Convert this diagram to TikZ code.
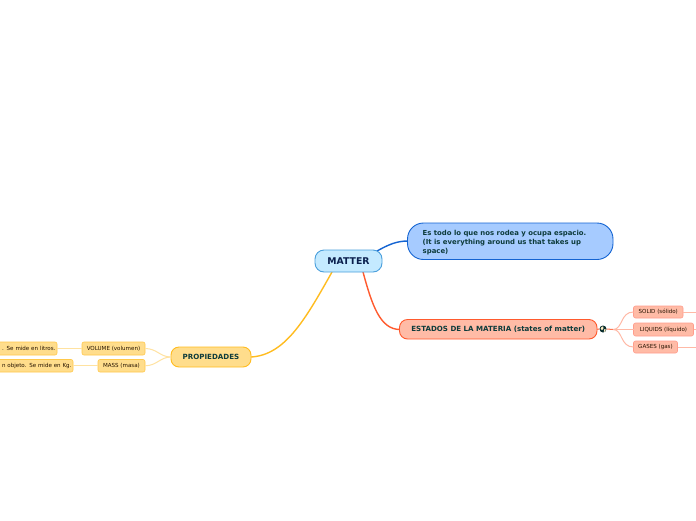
\documentclass[tikz,border=0pt]{standalone}
\usepackage{fontspec}
\setmainfont{DejaVu Sans}
\newcommand{\lowr}[1]{\raisebox{-.8pt}{#1}}
\definecolor{tealtxt}{HTML}{0D3B3B}
\definecolor{navytxt}{HTML}{0A1F4D}
\definecolor{bluefill}{HTML}{A6CBFF}
\definecolor{blueline}{HTML}{1464D2}
\definecolor{skyfill}{HTML}{C4EAFF}
\definecolor{skyline}{HTML}{4A9FDC}
\definecolor{redfill}{HTML}{FFBBA6}
\definecolor{redline}{HTML}{FF5A2E}
\definecolor{redthin}{HTML}{FFB9A6}
\definecolor{orfill}{HTML}{FFDD8C}
\definecolor{orline}{HTML}{FFBC1F}
\definecolor{orthin}{HTML}{FFE2A0}
\tikzset{
 box/.style={draw,line width=.9pt,rounded corners=#1,inner sep=0pt,outer sep=0pt,align=center},
 sbox/.style={draw,line width=.6pt,rounded corners=2pt,inner sep=0pt,outer sep=0pt,font=\fontsize{5.55}{6}\selectfont,text=black!85!orange},
 redsmall/.style={sbox,fill=redfill,draw=redthin!85!red},
 orsmall/.style={sbox,fill=orfill,draw=orline!60!orfill},
 thinred/.style={redthin,line width=1pt},
 thinor/.style={orthin,line width=1pt},
}
\begin{document}
\begin{tikzpicture}[x=1pt,y=-1pt]
\useasboundingbox (0,0) rectangle (696,520);
\clip (0,0) rectangle (696,520);
\fill[white] (0,0) rectangle (696,520);
% main connectors (behind nodes)
\coordinate (mT) at (377,251);
\coordinate (mL) at (363,272);
\coordinate (mP) at (332,272);
\coordinate (bW) at (408,241);
\coordinate (eW) at (400,329.5);
\coordinate (pE) at (251,357);
\draw[blueline,line width=1.4pt] (mT) .. controls (388,245) and (396,241) .. (bW);
\draw[redline,line width=1.4pt] (mL) .. controls (372,305) and (380,329.5) .. (eW);
\draw[orline,line width=1.4pt] (mP) .. controls (305,320) and (285,355) .. (pE);
% nodes
\node[box=9pt,draw=skyline,fill=skyfill,minimum width=67pt,minimum height=22pt,text=navytxt,font=\bfseries\fontsize{9.3}{10}\selectfont] (matter) at (348.5,261) {\lowr{MATTER}};
\node[box=16pt,draw=blueline,fill=bluefill,minimum width=205.5pt,minimum height=36.5pt] (blue) at (510.25,241.25) {};
\node[anchor=west,inner sep=0pt,align=left,text=tealtxt,font=\bfseries\fontsize{6.9}{8.7}\selectfont] (bluetxt) at (422.5,242.5) {Es todo lo que nos rodea y ocupa espacio.\\(It is everything around us that takes up\\space)};
\node[box=8pt,draw=redline,fill=redfill,minimum width=197.5pt,minimum height=19.5pt,text=tealtxt,font=\bfseries\fontsize{7.08}{8}\selectfont] (estados) at (498.25,329.25) {\lowr{ESTADOS DE LA MATERIA (states of matter)}};
\node[box=8pt,draw=orline,fill=orfill,minimum width=80pt,minimum height=20pt,text=tealtxt,font=\bfseries\fontsize{7.1}{8}\selectfont] (prop) at (211,357) {\lowr{PROPIEDADES}};
% icon
\node[circle,draw=none,fill=tealtxt!80!black,minimum size=7pt,inner sep=0pt] (globe) at (603,329) {};
\fill[orfill!50!white] (601.6,326.8) -- (603.2,326.4) -- (603.4,328.6) -- (602,330) -- (600.6,328.8) -- cycle;
\fill[orfill!50!white] (604.4,329) -- (605.8,329.6) -- (605,331.8) -- (603.8,331.6) -- cycle;
% small red
\node[redsmall,minimum width=49.5pt,minimum height=12pt] (solid) at (658.25,312) {\lowr{SOLID (sólido)}};
\node[redsmall,minimum width=60pt,minimum height=13pt] (liq) at (663.5,329.5) {\lowr{LIQUIDS (líquido)}};
\node[redsmall,minimum width=44pt,minimum height=12pt] (gas) at (655.5,347) {\lowr{GASES (gas)}};
\coordinate (sR) at (696,312);
\coordinate (lR) at (696,329.5);
\coordinate (gR) at (696,347);
\draw[redline,line width=.9pt] (estados.east) -- (globe.west);
\draw[redline!70!redthin,line width=1pt] (globe.east) -- (613,329.5);
\draw[thinred] (613,329.5) .. controls (623,329.5) and (620,312) .. (solid.west);
\draw[thinred] (613,329.5) -- (liq.west);
\draw[thinred] (613,329.5) .. controls (623,329.5) and (620,347) .. (gas.west);
\draw[thinred] (solid.east) -- (sR);
\draw[thinred] (liq.east) -- (lR);
\draw[thinred] (gas.east) -- (gR);
% small orange
\node[orsmall,minimum width=63pt,minimum height=13pt] (vol) at (113.5,348.5) {\lowr{VOLUME (volumen)}};
\node[orsmall,minimum width=47pt,minimum height=12.5pt] (mass) at (121.5,365.75) {\lowr{MASS (masa)}};
\node[orsmall,minimum width=87pt,minimum height=13pt,text width=84pt,align=right] (vtxt) at (13.5,348.5) {\lowr{. Se mide en litros.}};
\node[orsmall,minimum width=103pt,minimum height=12.5pt,text width=100pt,align=right] (mtxt) at (21.5,365.75) {\lowr{n objeto. Se mide en Kg.}};
\draw[thinor] (prop.west) .. controls (160,357) and (157,348.5) .. (vol.east);
\draw[thinor] (prop.west) .. controls (160,357) and (157,365.75) .. (mass.east);
\draw[thinor] (vol.west) -- (vtxt.east);
\draw[thinor] (mass.west) -- (mtxt.east);
\end{tikzpicture}
\end{document}
